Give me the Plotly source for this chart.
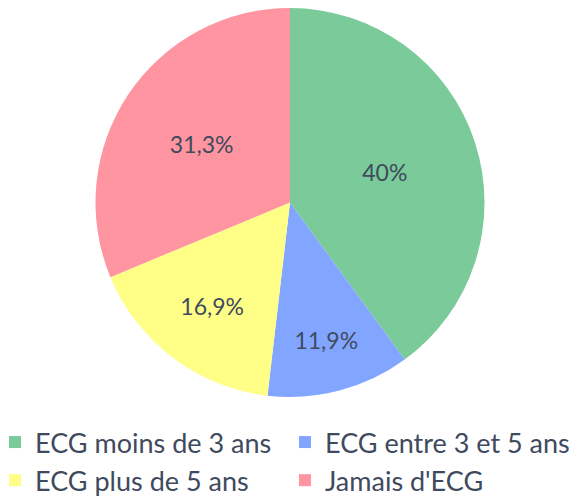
import plotly.graph_objects as go

labels = ["ECG moins de 3 ans", "ECG entre 3 et 5 ans", "ECG plus de 5 ans", "Jamais d'ECG"]
values = [40.0, 11.9, 16.9, 31.3]
text_labels = ["40%", "11,9%", "16,9%", "31,3%"]
colors = ["#7ACA9A", "#82A6FF", "#FFFF88", "#FF95A0"]

W, H, B = 580, 503, 100
PH = H - B  # plot-area height

fig = go.Figure(go.Pie(
    labels=labels,
    values=values,
    text=text_labels,
    textinfo="text",
    texttemplate="%{text}",
    textposition="inside",
    insidetextorientation="horizontal",
    sort=False,
    direction="clockwise",
    rotation=0,
    marker=dict(colors=colors, line=dict(color="white", width=0)),
    textfont=dict(family="Lato, Carlito, sans-serif", size=23, color="#404A5E"),
    domain=dict(x=[87.5/W, 476.5/W], y=[1-389/PH, 1]),
    hoverinfo="label+text",
))

fig.update_layout(
    width=W, height=H,
    margin=dict(l=0, r=0, t=0, b=B, autoexpand=False),
    paper_bgcolor="white",
    plot_bgcolor="white",
    uniformtext=dict(minsize=23, mode="show"),
    legend=dict(
        orientation="h",
        x=-13/W, y=(PH-410)/PH, xanchor="left", yanchor="top",
        entrywidth=245, entrywidthmode="pixels",
        font=dict(family="Lato, Carlito, sans-serif", size=27, color="#404A5E"),
        traceorder="normal",
    ),
)

fig.write_html("out.html")
